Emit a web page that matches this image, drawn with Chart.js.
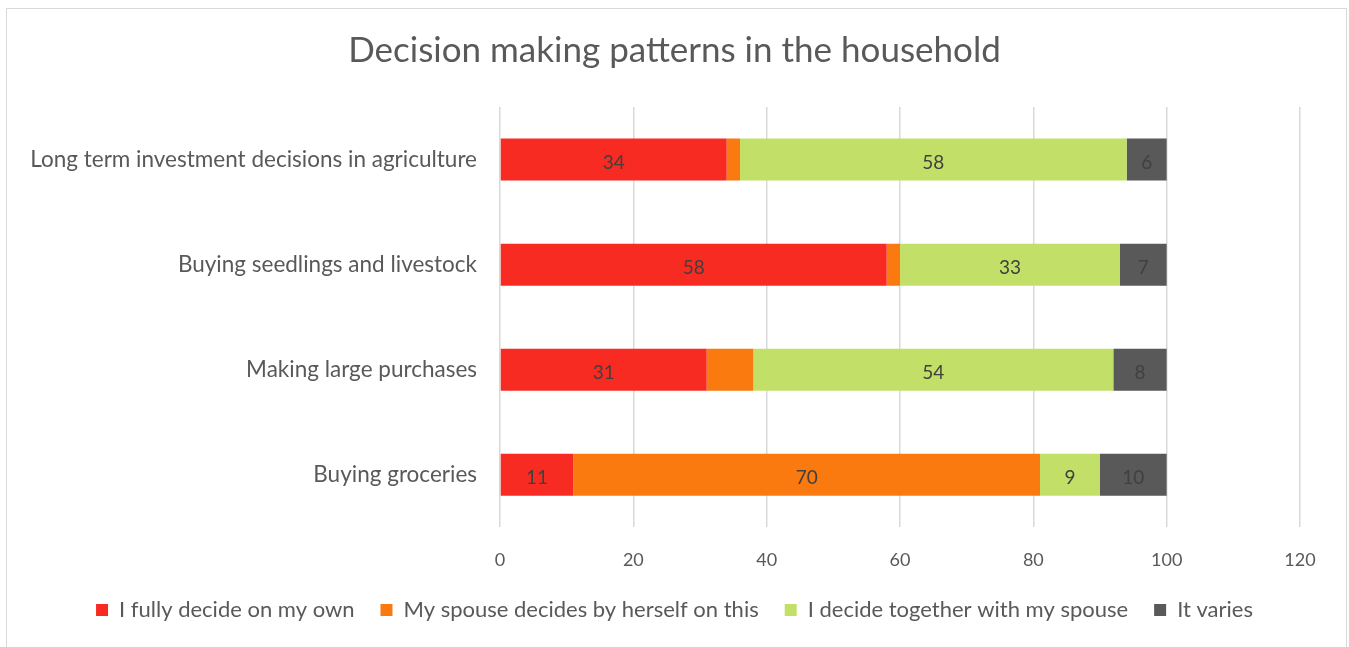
<!DOCTYPE html>
<html>
<head>
<meta charset="utf-8">
<script src="https://cdn.jsdelivr.net/npm/chart.js@4"></script>
<style>
  html, body { margin: 0; padding: 0; background: #fff; }
  #frame { position: absolute; left: 6px; top: 8px; width: 1339px; height: 660px; border: 1px solid #d9d9d9; }
  #wrap { position: absolute; left: 0; top: 0; width: 1349px; height: 647px; }
</style>
</head>
<body>
<div id="frame"></div>
<div id="wrap"><canvas id="chartDecisions"></canvas></div>
<script>
const categories = [
    "Long term investment decisions in agriculture",
    "Buying seedlings and livestock",
    "Making large purchases",
    "Buying groceries"
];
const fullyOwn = [34, 58, 31, 11];
const spouseAlone = [2, 2, 7, 70];
const together = [58, 33, 54, 9];
const varies = [6, 7, 8, 10];
const xTicks = [0, 20, 40, 60, 80, 100, 120];

const fontName = "Lato, 'Open Sans', sans-serif";

// values written in the middle of each segment
const segmentLabels = {
    id: 'segmentLabels',
    afterDatasetsDraw(chart) {
        const ctx = chart.ctx;
        ctx.save();
        ctx.font = "19px " + fontName;
        ctx.fillStyle = '#404040';
        ctx.textAlign = 'center';
        ctx.textBaseline = 'middle';
        chart.data.datasets.forEach(function(ds, i) {
            const meta = chart.getDatasetMeta(i);
            meta.data.forEach(function(bar, j) {
                const v = ds.data[j];
                if (v < (ds.minLabel || 0)) return;
                ctx.fillText(String(v), (bar.x + bar.base) / 2, bar.y + 3);
            });
        });
        ctx.restore();
    }
};

const ctx = document.getElementById('chartDecisions').getContext('2d');
new Chart(ctx, {
    type: 'bar',
    data: {
        labels: categories,
        datasets: [
            { label: 'I fully decide on my own', data: fullyOwn, backgroundColor: '#f72b22' },
            { label: 'My spouse decides by herself on this', data: spouseAlone, backgroundColor: '#fb7a10', minLabel: 10 },
            { label: 'I decide together with my spouse', data: together, backgroundColor: '#c2e068' },
            { label: 'It varies', data: varies, backgroundColor: '#595959' }
        ]
    },
    options: {
        indexAxis: 'y',
        responsive: true,
        maintainAspectRatio: false,
        animation: false,
        datasets: { bar: { barPercentage: 0.4, categoryPercentage: 1 } },
        layout: { padding: { left: 0, right: 0, top: 0, bottom: 16 } },
        scales: {
            x: {
                stacked: true,
                min: 0,
                max: 120,
                afterBuildTicks: function(scale) {
                    scale.ticks = xTicks.map(v => ({ value: v }));
                },
                afterFit: function(scale) { scale.height -= 20; },
                grid: { color: '#d9d9d9', lineWidth: 1.5, drawTicks: false },
                border: { display: false },
                ticks: { color: '#595959', font: { family: fontName, size: 18 }, padding: 22 }
            },
            y: {
                stacked: true,
                grid: { display: false },
                border: { display: false },
                afterFit: function(scale) { scale.width = 500; },
                ticks: { color: '#595959', font: { family: fontName, size: 22.5 }, padding: 15 }
            },
            // empty space to the right of the plot
            yRight: {
                type: 'linear',
                position: 'right',
                grid: { display: false },
                border: { display: false },
                ticks: { display: false },
                afterFit: function(scale) { scale.width = 49; }
            }
        },
        plugins: {
            title: {
                display: true,
                text: 'Decision making patterns in the household',
                color: '#595959',
                font: { family: fontName, size: 35, weight: 'normal' },
                padding: { top: 30, bottom: 35 }
            },
            legend: {
                position: 'bottom',
                labels: {
                    color: '#595959',
                    font: { family: fontName, size: 22 },
                    boxWidth: 12,
                    boxHeight: 12,
                    padding: 26
                }
            },
            tooltip: { enabled: false }
        }
    },
    plugins: [segmentLabels]
});
</script>
</body>
</html>
